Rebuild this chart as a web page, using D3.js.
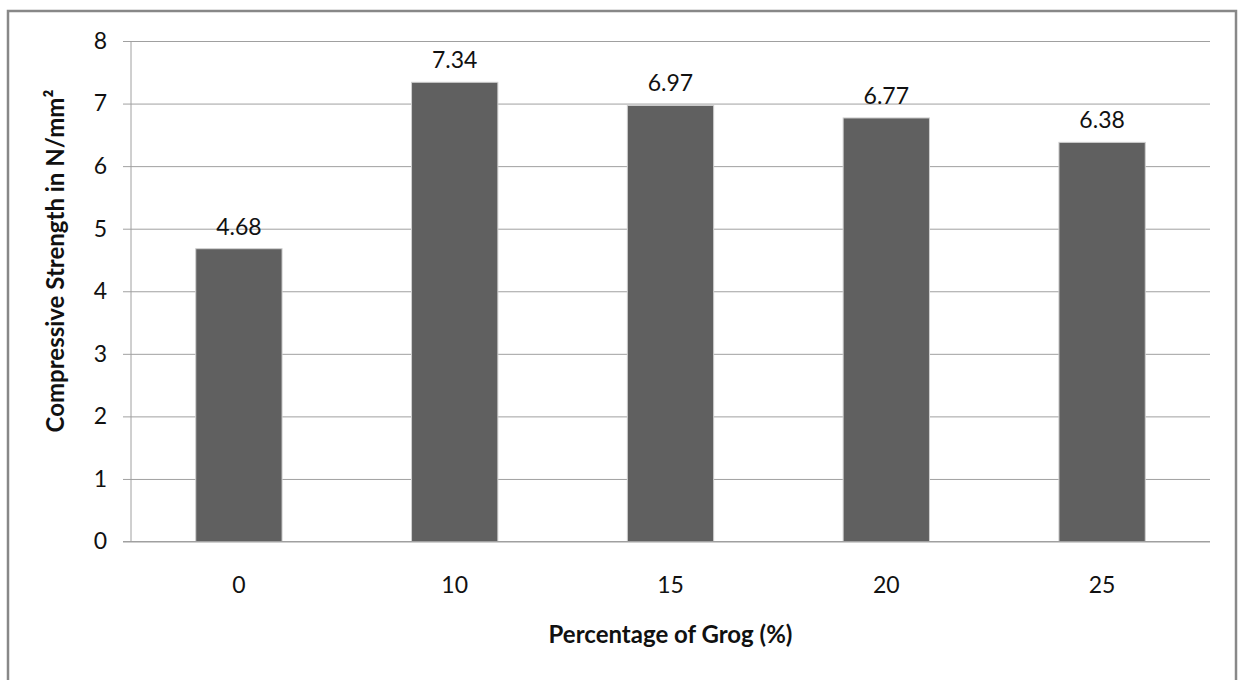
<!DOCTYPE html>
<html><head><meta charset="utf-8">
<script src="https://cdn.jsdelivr.net/npm/d3@7"></script>
<style>
html,body{margin:0;padding:0;background:#fff;}
svg{display:block;font-family:Lato,"Open Sans",sans-serif;}
</style></head>
<body>
<svg id="chart" width="1239" height="680"></svg>
<script>
const categories = ["0", "10", "15", "20", "25"];
const values = [4.68, 7.34, 6.97, 6.77, 6.38];
const valueLabels = ["4.68", "7.34", "6.97", "6.77", "6.38"];
const yTicks = [0, 1, 2, 3, 4, 5, 6, 7, 8];
const xTitle = "Percentage of Grog (%)";
const yTitle = "Compressive Strength in N/mm²";

const svg = d3.select("#chart");
const m = {left: 131, right: 1210, top: 41, bottom: 541.5};
const FONT = "Lato,'Open Sans',sans-serif";

// outer frame
svg.append("rect").attr("x", 8).attr("y", 11).attr("width", 1228).attr("height", 700)
  .attr("fill", "none").attr("stroke", "#888").attr("stroke-width", 2.5);

const x = d3.scaleBand().domain(categories).range([m.left, m.right])
  .paddingInner(0.6).paddingOuter(0.3);
const y = d3.scaleLinear().domain([0, 8]).range([m.bottom, m.top]);

// gridlines + y ticks
const yAxis = d3.axisLeft(y).tickValues(yTicks).tickSize(-(m.right - m.left)).tickPadding(24).tickFormat(d3.format("d"));
const gy = svg.append("g").attr("transform", `translate(${m.left},0)`).call(yAxis);
gy.select(".domain").remove();
gy.selectAll(".tick line").attr("stroke", "#a0a0a0").attr("stroke-width", 1).attr("x1", -8);
gy.selectAll(".tick text").attr("font-size", 23).attr("fill", "#111").attr("font-family", FONT);

// y axis line
svg.append("line").attr("x1", m.left).attr("x2", m.left).attr("y1", m.top).attr("y2", m.bottom)
  .attr("stroke", "#a0a0a0").attr("stroke-width", 1);

// bars
svg.append("g").selectAll("rect").data(values).join("rect")
  .attr("x", (d, i) => x(categories[i]))
  .attr("y", d => y(d))
  .attr("width", x.bandwidth())
  .attr("height", d => y(0) - y(d))
  .attr("fill", "#606060").attr("stroke", "#d0d0d0").attr("stroke-width", 1);

// value labels
svg.append("g").selectAll("text").data(values).join("text")
  .attr("x", (d, i) => x(categories[i]) + x.bandwidth() / 2)
  .attr("y", d => y(d) - 14)
  .attr("text-anchor", "middle").attr("font-size", 23).attr("fill", "#111").attr("font-family", FONT)
  .text((d, i) => valueLabels[i]);

// x axis
const xAxis = d3.axisBottom(x).tickSize(0).tickPadding(35);
const gx = svg.append("g").attr("transform", `translate(0,${m.bottom})`).call(xAxis);
gx.select(".domain").attr("stroke", "#a0a0a0").attr("d", `M${m.left - 8},0H${m.right}`);
gx.selectAll(".tick text").attr("font-size", 23).attr("fill", "#111").attr("font-family", FONT);

// titles
svg.append("text").attr("x", (m.left + m.right) / 2).attr("y", 643)
  .attr("text-anchor", "middle").attr("font-size", 24).attr("font-weight", "bold").attr("fill", "#111")
  .attr("font-family", FONT).text(xTitle);
svg.append("text").attr("transform", `translate(64,261) rotate(-90)`)
  .attr("text-anchor", "middle").attr("font-size", 24).attr("font-weight", "bold").attr("fill", "#111")
  .attr("font-family", FONT).text(yTitle);
</script>
</body></html>
